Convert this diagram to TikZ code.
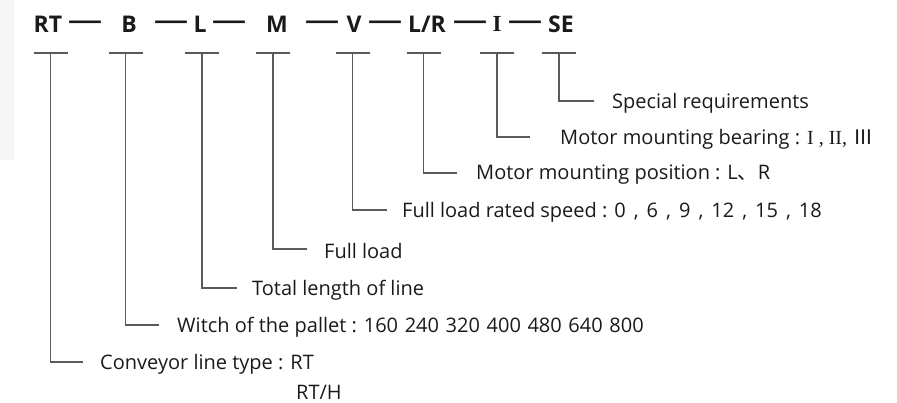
\documentclass[tikz,border=0pt]{standalone}
\usepackage{fontspec}
\usepackage{graphicx}
\setmainfont{Open Sans}
\newfontfamily\cjk{Noto Sans CJK SC}
\newfontfamily\serifrm{Liberation Serif}
\definecolor{txt}{HTML}{1A1A1A}
\definecolor{linec}{HTML}{5A5A5A}
\definecolor{panel}{HTML}{F6F6F6}
\newcommand{\wdash}{\scalebox{1.5}[1]{—}}
\newcommand{\gap}{\hspace{0.33em}}
\newcommand{\sgap}{\hspace{0.4em}}
\begin{document}
\begin{tikzpicture}[x=1pt,y=-1pt,
  every node/.style={inner sep=0pt, text=txt},
  code/.style={font=\fontsize{23}{23}\selectfont\bfseries},
  desc/.style={anchor=west, font=\fontsize{20}{20}\selectfont},
  link/.style={draw=linec, line width=1.3pt}]
\useasboundingbox (0,0) rectangle (897,403);
\fill[panel] (0,0) rectangle (14,160);
% header codes
\node[code] (rt) at (48,24) {RT};
\node[code] (d1) at (85,25) {\wdash};
\node[code] (b) at (129,24) {B};
\node[code] (d2) at (171,25) {\wdash};
\node[code] (l) at (200,24) {L};
\node[code] (d3) at (229,25) {\wdash};
\node[code] (m) at (277,24) {M};
\node[code] (d4) at (322,25) {\wdash};
\node[code] (v) at (354,24) {V};
\node[code] (d5) at (385,25) {\wdash};
\node[code] (lr) at (427,24) {L/R};
\node[code] (d6) at (470,25) {\wdash};
\node[code] (i) at (497,24) {\serifrm\bfseries I};
\node[code] (d7) at (525,25) {\wdash};
\node[code] (se) at (561,24) {SE};
% descriptions
\node[desc] (drt) at (100,364) {Conveyor line type : RT};
\node[desc] (drth) at (296,392) {RT/H};
\node[desc] (db) at (177,327) {Witch of the pallet : 160\gap240\gap320\gap400\gap480\gap640\gap800};
\node[desc] (dl) at (252,290) {Total length of line};
\node[desc] (dm) at (324,251) {Full load};
\node[desc] (dv) at (402,212) {Full load rated speed : 0\sgap,\sgap6\sgap,\sgap9\sgap,\sgap12\sgap,\sgap15\sgap,\sgap18};
\node[desc] (dlr) at (476,175) {Motor mounting position : L{\cjk 、}R};
\node[desc] (di) at (560,139) {Motor mounting bearing : {\serifrm I , II,}\gap{\cjk Ⅲ}};
\node[desc] (dse) at (612,103) {Special requirements};
% stems (top of T) and ends of the elbows
\coordinate (crt) at (50.5,53);  \coordinate (ert) at (83,362);
\coordinate (cb) at (125.5,53);  \coordinate (eb) at (159,325);
\coordinate (cl) at (202,53);    \coordinate (el) at (237,288);
\coordinate (cm) at (273,53);    \coordinate (em) at (307,249);
\coordinate (cv) at (352.5,53);  \coordinate (ev) at (387,210);
\coordinate (clr) at (423.5,53); \coordinate (elr) at (457,173);
\coordinate (ci) at (497,53);    \coordinate (ei) at (530,137);
\coordinate (cse) at (559,53);   \coordinate (ese) at (594,101);
\foreach \c/\e in {crt/ert,cb/eb,cl/el,cm/em,cv/ev,clr/elr,ci/ei,cse/ese}{
  \draw[link] ([xshift=-17pt]\c) -- ([xshift=17pt]\c);
  \draw[link] (\c) |- (\e);
}
\end{tikzpicture}
\end{document}
